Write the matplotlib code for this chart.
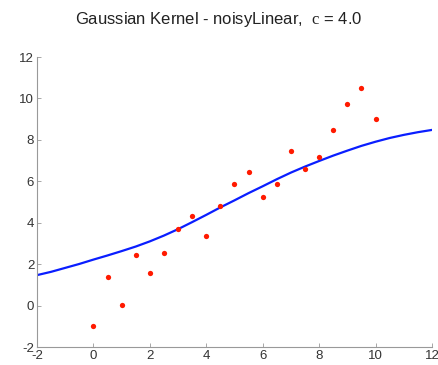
import numpy as np
import matplotlib
matplotlib.use('Agg')
import matplotlib.pyplot as plt

plt.rcParams['font.family'] = ['Liberation Sans', 'DejaVu Sans']
plt.rcParams['mathtext.fontset'] = 'custom'
plt.rcParams['mathtext.rm'] = 'Liberation Serif'
plt.rcParams['axes.unicode_minus'] = False

# noisy samples (red dots)
x_data = [0, 0.5, 1, 1.5, 2, 2.5, 3, 3.5, 4, 4.5, 5,
          5.5, 6, 6.5, 7, 7.5, 8, 8.5, 9, 9.5, 10]
y_data = [-1.0, 1.40, 0.01, 2.44, 1.57, 2.54, 3.72, 4.31, 3.37, 4.82, 5.88,
          6.45, 5.23, 5.87, 7.48, 6.59, 7.15, 8.48, 9.72, 10.50, 9.01]

# kernel regression curve (blue)
x_fit = [-2, -1.5, -1, -0.5, 0, 0.5, 1, 1.5, 2, 2.5, 3, 3.5, 4, 4.5, 5,
         5.5, 6, 6.5, 7, 7.5, 8, 8.5, 9, 9.5, 10, 10.5, 11, 11.5, 12]
y_fit = [1.47, 1.63, 1.82, 2.01, 2.22, 2.42, 2.63, 2.85, 3.10, 3.38,
         3.69, 4.03, 4.38, 4.74, 5.08, 5.43, 5.76, 6.10, 6.42, 6.71,
         6.98, 7.24, 7.48, 7.71, 7.91, 8.09, 8.24, 8.37, 8.48]

ticks = [-2, 0, 2, 4, 6, 8, 10, 12]

fig = plt.figure(figsize=(4.38, 3.65), dpi=100)
ax = fig.add_axes([0.0845, 0.0493, 0.9017, 0.7945])

ax.plot(x_fit, y_fit, color='#0a1eff', lw=1.6)
ax.plot(x_data, y_data, 'o', color='#ff1a00', ms=3.8, mec='none')

ax.set_xlim(-2, 12)
ax.set_ylim(-2, 12)
ax.set_xticks(ticks)
ax.set_yticks(ticks)
for s in ['top', 'right']:
    ax.spines[s].set_visible(False)
for s in ['left', 'bottom']:
    ax.spines[s].set_color('#999999')
    ax.spines[s].set_linewidth(0.8)
ax.tick_params(direction='in', length=3, width=0.6, color='#999999',
               labelsize=9.5, labelcolor='#333333', pad=2)

fig.suptitle(r'Gaussian Kernel - noisyLinear,  $\mathrm{c}$ = 4.0',
             y=0.973, fontsize=12, color='#222222')

fig.savefig('out.png', dpi=100)
